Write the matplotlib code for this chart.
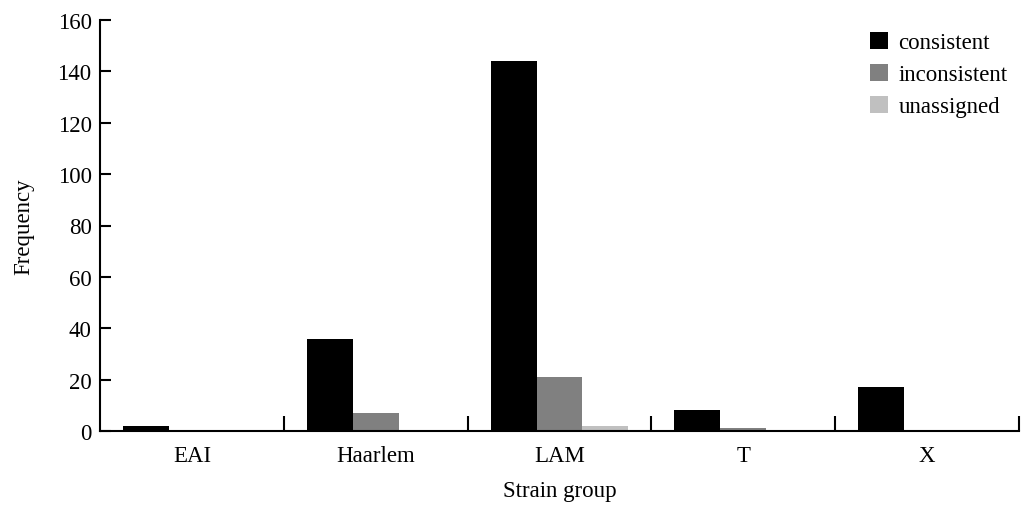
import matplotlib
matplotlib.use("Agg")
import matplotlib.pyplot as plt
import numpy as np

groups = ["EAI", "Haarlem", "LAM", "T", "X"]
consistent = [2, 36, 144, 8, 17]
inconsistent = [0, 7, 21, 1, 0]
unassigned = [0, 0, 2, 0, 0]

series = [("consistent", consistent, "#000000"),
          ("inconsistent", inconsistent, "#808080"),
          ("unassigned", unassigned, "#c0c0c0")]

plt.rcParams['font.family'] = ['Liberation Serif', 'DejaVu Serif']

fig = plt.figure(figsize=(10.22, 5.06), dpi=100)
ax = fig.add_axes([100 / 1022, 74 / 506, 919 / 1022, 411 / 506])

x = np.arange(len(groups))
w = 0.25
for i, (name, vals, col) in enumerate(series):
    ax.bar(x - 0.375 + w * (i + 0.5), vals, width=w, color=col, label=name)

ax.set_xlim(-0.5, len(groups) - 0.5)
ax.set_ylim(0, 160)
ax.set_yticks(range(0, 161, 20))
ax.set_xticks(x)
ax.set_xticklabels(groups)
ax.set_xticks(np.arange(len(groups)) + 0.5, minor=True)

ax.spines['top'].set_visible(False)
ax.spines['right'].set_visible(False)
for s in ['left', 'bottom']:
    ax.spines[s].set_linewidth(1.5)

fs = 16.5
ax.tick_params(axis='y', direction='in', length=8, width=1.5, labelsize=fs, pad=6)
ax.tick_params(axis='x', which='major', length=0, labelsize=fs, pad=10)
ax.tick_params(axis='x', which='minor', direction='in', length=11, width=1.5)

ax.set_xlabel("Strain group", fontsize=fs, labelpad=10)
ax.set_ylabel("Frequency", fontsize=fs, labelpad=17)

ax.legend(loc='upper right', frameon=False, fontsize=fs, handlelength=0.8,
          handleheight=0.8, handletextpad=0.45, labelspacing=0.45,
          bbox_to_anchor=(1.01, 1.022))

fig.savefig("out.png", dpi=100)
